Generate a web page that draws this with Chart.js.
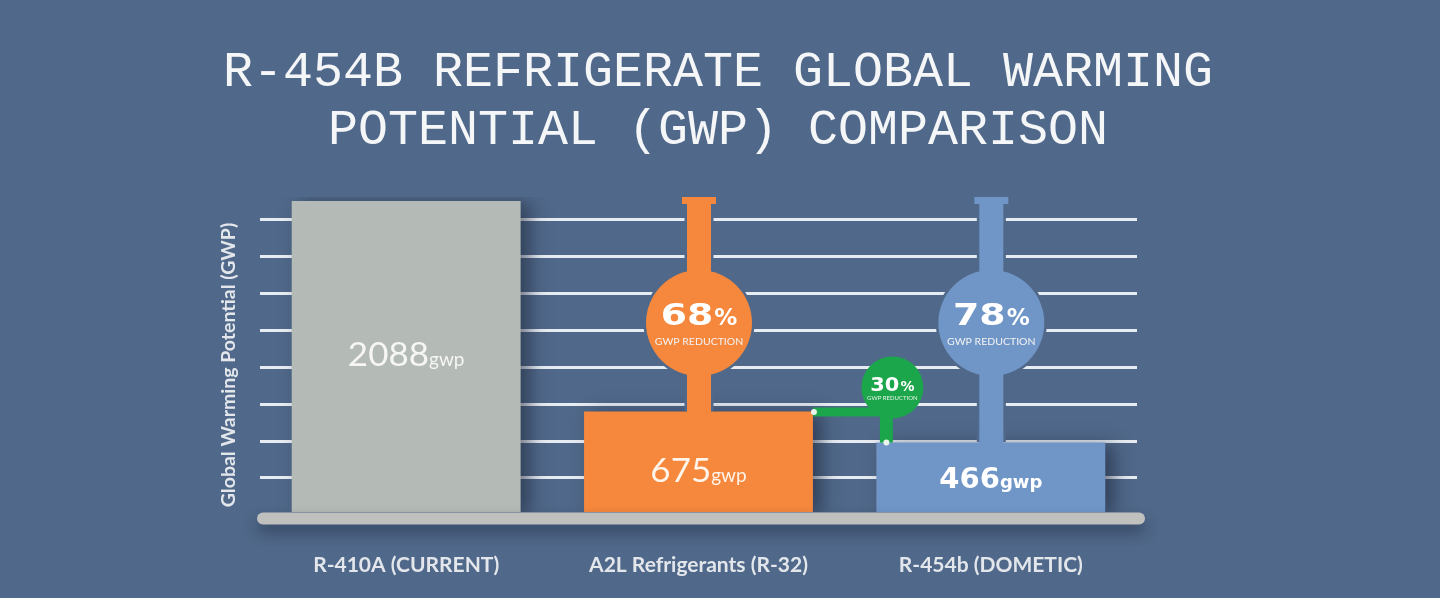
<!DOCTYPE html>
<html>
<head>
<meta charset="utf-8">
<script src="https://cdn.jsdelivr.net/npm/chart.js@4.4.1/dist/chart.umd.min.js"></script>
<style>
  html, body { margin: 0; padding: 0; background: #506889; overflow: hidden; }
  #wrap { position: relative; width: 1440px; height: 598px; }
</style>
</head>
<body>
<div id="wrap"><canvas id="c"></canvas></div>
<script>
// ---------------- data ----------------
const titleLines = ['R-454B REFRIGERATE GLOBAL WARMING', 'POTENTIAL (GWP) COMPARISON'];
const categories = ['R-410A (CURRENT)', 'A2L Refrigerants (R-32)', 'R-454b (DOMETIC)'];
const gwpValues = [2088, 675, 466];
const valueUnit = 'gwp';
const reductionVsR410A = [null, 68, 78];          // % GWP reduction vs. R-410A
const reductionR32toR454b = 30;                  // % GWP reduction R-32 -> R-454b
const reductionCaption = 'GWP REDUCTION';
const yAxisTitle = 'Global Warming Potential (GWP)';
const yMax = 2115;

// ---------------- style ----------------
const BG = '#506889';
const barColors = ['#b4bab5', '#f5883c', '#7096c7'];
const valueFonts = [
  { num: '400 33px Lato', unit: '400 19px Lato', color: '#f6f6f4', sx: 1.06 },
  { num: '400 33px Lato', unit: '400 19px Lato', color: '#fff4ea', sx: 1.06 },
  { num: '700 29px "DejaVu Sans"', unit: '700 18px "DejaVu Sans"', color: '#ffffff', sx: 1 }
];
const valueShift = [-2, 8, 0];
const GREEN = '#1ca64b';

function txt(ctx, s, x, y, font, color, align, baseline, sx) {
  ctx.save();
  ctx.font = font; ctx.fillStyle = color;
  ctx.textAlign = align || 'center'; ctx.textBaseline = baseline || 'alphabetic';
  ctx.translate(x, y); ctx.scale(sx || 1, 1);
  ctx.fillText(s, 0, 0);
  ctx.restore();
}
function measure(ctx, s, font) {
  ctx.save(); ctx.font = font; const w = ctx.measureText(s).width; ctx.restore(); return w;
}
function numUnit(ctx, num, unit, cx, y, fNum, fUnit, color, sx) {
  sx = sx || 1;
  const w1 = measure(ctx, num, fNum) * sx, w2 = measure(ctx, unit, fUnit);
  const left = cx - (w1 + w2) / 2;
  txt(ctx, num, left, y, fNum, color, 'left', 'alphabetic', sx);
  txt(ctx, unit, left + w1, y, fUnit, color, 'left', 'alphabetic', 1);
}

const decor = {
  id: 'decor',
  beforeDraw(chart) {
    const ctx = chart.ctx;
    ctx.save(); ctx.fillStyle = BG; ctx.fillRect(0, 0, chart.width, chart.height); ctx.restore();
  },
  beforeDatasetsDraw(chart) {
    const ctx = chart.ctx;
    ctx.save();
    ctx.shadowColor = 'rgba(25,35,55,0.55)';
    ctx.shadowBlur = 16;
    ctx.shadowOffsetX = 9;
    ctx.shadowOffsetY = 2;
  },
  afterDatasetsDraw(chart) {
    const ctx = chart.ctx;
    ctx.restore();
    const area = chart.chartArea;
    const bars = chart.getDatasetMeta(0).data;

    // thermometer stems + reduction circles
    const circleY = area.top + (area.bottom - area.top) * 0.4;
    const R = 53;
    reductionVsR410A.forEach((pct, i) => {
      if (pct == null) return;
      const b = bars[i];
      const cx = b.x + 0.5;
      const capTop = area.top, capH = 7, capW = 34, stemW = 24;
      ctx.save();
      ctx.strokeStyle = BG; ctx.lineWidth = 5;
      ctx.strokeRect(cx - capW / 2, capTop, capW, capH);
      ctx.strokeRect(cx - stemW / 2, capTop + capH, stemW, b.y - capTop - capH - 3);
      ctx.beginPath(); ctx.arc(cx, circleY, R, 0, Math.PI * 2); ctx.stroke();
      ctx.fillStyle = barColors[i];
      ctx.fillRect(cx - capW / 2, capTop, capW, capH);
      ctx.fillRect(cx - stemW / 2, capTop + capH - 0.5, stemW, b.y - capTop - capH + 1);
      ctx.beginPath(); ctx.arc(cx, circleY, R, 0, Math.PI * 2); ctx.fill();
      ctx.restore();
      const fN = '700 31px "DejaVu Sans"', fP = '700 23px "DejaVu Sans"', sx = 1.22;
      const n = String(pct);
      const w1 = measure(ctx, n, fN) * sx, w2 = measure(ctx, '%', fP) + 1;
      const left = cx - (w1 + w2) / 2;
      txt(ctx, n, left, circleY + 2, fN, '#ffffff', 'left', 'alphabetic', sx);
      txt(ctx, '%', left + w1 + 1, circleY + 2, fP, '#ffffff', 'left', 'alphabetic', 1);
      txt(ctx, reductionCaption, cx, circleY + 22, '400 10px Lato', '#f3f3f3', 'center', 'alphabetic', 1.05);
    });

    // green connector: R-32 -> R-454b
    {
      const o = bars[1], bl = bars[2];
      const oRight = o.x + o.width / 2, oTop = o.y;
      const bLeft = bl.x - bl.width / 2, bTop = bl.y;
      const sX = bLeft + 10;
      const gcx = sX + 6, gcy = oTop - 24, gr = 31;
      ctx.save();
      ctx.fillStyle = GREEN;
      ctx.fillRect(oRight, oTop - 4, sX - oRight + 6, 9);
      ctx.fillRect(sX - 6.5, gcy, 13, bTop - gcy);
      ctx.beginPath(); ctx.arc(gcx, gcy, gr, 0, Math.PI * 2); ctx.fill();
      ctx.fillStyle = '#e9f5ec';
      ctx.beginPath(); ctx.arc(oRight + 1, oTop + 0.5, 3, 0, Math.PI * 2); ctx.fill();
      ctx.beginPath(); ctx.arc(sX, bTop, 3, 0, Math.PI * 2); ctx.fill();
      ctx.restore();
      const fN = '700 19px "DejaVu Sans"', fP = '700 14px "DejaVu Sans"';
      const n = String(reductionR32toR454b);
      const w1 = measure(ctx, n, fN) * 1.1, w2 = measure(ctx, '%', fP) + 1;
      const left = gcx - (w1 + w2) / 2;
      txt(ctx, n, left, gcy + 4, fN, '#ffffff', 'left', 'alphabetic', 1.1);
      txt(ctx, '%', left + w1 + 1, gcy + 4, fP, '#ffffff', 'left');
      txt(ctx, reductionCaption, gcx, gcy + 13, '400 6px Lato', '#e8f4ea');
    }

    // value labels inside bars
    bars.forEach((b, i) => {
      const f = valueFonts[i];
      const mid = (b.y + b.base) / 2;
      const cap = parseFloat(f.num.split(' ')[1]) * 0.72;
      numUnit(ctx, String(gwpValues[i]), valueUnit, b.x, mid + cap / 2 + valueShift[i], f.num, f.unit, f.color, f.sx);
    });

    // baseline
    ctx.save();
    ctx.strokeStyle = '#c0c0bf'; ctx.lineWidth = 12; ctx.lineCap = 'round';
    ctx.shadowColor = 'rgba(20,30,50,0.45)'; ctx.shadowBlur = 14; ctx.shadowOffsetY = 8;
    ctx.beginPath(); ctx.moveTo(area.left + 3, area.bottom + 6.5); ctx.lineTo(area.right + 2, area.bottom + 6.5); ctx.stroke();
    ctx.restore();

    // category labels
    const xs = chart.scales.x;
    categories.forEach((c, i) => {
      txt(ctx, c, xs.getPixelForValue(i), 565, '700 21px Lato', '#e3e7ec', 'center', 'middle');
    });

    // y-axis title
    ctx.save();
    ctx.translate(229, 365); ctx.rotate(-Math.PI / 2);
    txt(ctx, yAxisTitle, 0, 0, '700 19.5px Lato', '#e3e7ec', 'center', 'middle');
    ctx.restore();

    // main title
    txt(ctx, titleLines[0], 718, 86, '400 50px "Liberation Mono"', '#f5f6f8', 'center');
    txt(ctx, titleLines[1], 718, 144, '400 50px "Liberation Mono"', '#f5f6f8', 'center');
  }
};

const ctx = document.getElementById('c').getContext('2d');
new Chart(ctx, {
  type: 'bar',
  data: {
    labels: categories,
    datasets: [{
      data: gwpValues,
      backgroundColor: barColors,
      borderWidth: 0,
      barPercentage: 0.783,
      categoryPercentage: 1
    }]
  },
  options: {
    responsive: true,
    maintainAspectRatio: false,
    animation: false,
    layout: { padding: { left: 260, right: 303, top: 197, bottom: 86 } },
    plugins: { legend: { display: false }, tooltip: { enabled: false }, title: { display: false } },
    scales: {
      x: { display: false },
      y: { display: false, min: 0, max: yMax },
      g: {
        type: 'linear', position: 'left', display: true,
        min: 0.081, max: 8.595,
        afterBuildTicks: (s) => { s.ticks = [1, 2, 3, 4, 5, 6, 7, 8].map(v => ({ value: v })); },
        ticks: { display: false },
        grid: { color: '#e7ecf3', lineWidth: 3, drawTicks: false },
        border: { display: false }
      }
    }
  },
  plugins: [decor]
});
</script>
</body>
</html>
